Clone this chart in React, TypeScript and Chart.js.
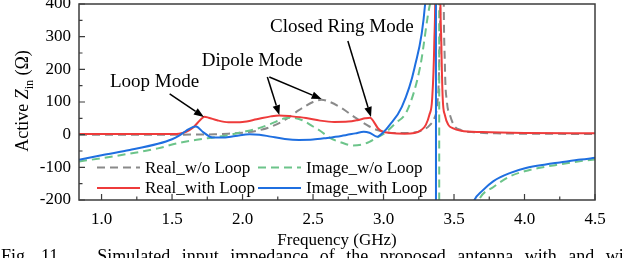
import { useEffect, useRef } from "react";
import { Chart, registerables } from "chart.js";

Chart.register(...registerables);

const FONT = "'Liberation Serif', 'Times New Roman', serif";

// ---------- data ----------
const realWoFreq = [0.84, 1.2, 1.5, 1.7, 1.8, 1.9, 2.0, 2.1, 2.2, 2.3, 2.4, 2.5, 2.56, 2.62, 2.7, 2.8, 2.9, 2.95, 3.0, 3.1, 3.2, 3.28, 3.33, 3.36, 3.38, 3.395, 3.405, 3.415, 3.425, 3.435, 3.45, 3.47, 3.5, 3.55, 3.65, 3.8, 4.0, 4.5];
const realWoVals = [0, 0, 0, 0.5, 1, 3, 6, 12, 24, 45, 75, 100, 107, 100, 82, 52, 25, 15, 9, 5, 6, 14, 30, 50, 90, 220, 600, 2500, 600, 220, 100, 62, 28, 14, 7, 4, 3, 2];

const imageWoFreq = [0.84, 1.0, 1.2, 1.4, 1.55, 1.7, 1.8, 1.9, 2.0, 2.1, 2.2, 2.3, 2.35, 2.42, 2.5, 2.55, 2.62, 2.7, 2.78, 2.85, 2.9, 2.95, 3.0, 3.08, 3.17, 3.26, 3.33, 3.37, 3.393, 3.397, 3.42, 3.5, 3.6, 3.676, 3.78, 3.9, 4.0, 4.1, 4.25, 4.4, 4.5];
const imageWoVals = [-82, -72, -58, -42, -25, -14, -8, -1, 8, 18, 33, 50, 52, 45, 25, 12, -10, -24, -33, -30, -22, -10, 2, 33, 76, 208, 400, 900, 8000, -8000, -2000, -600, -300, -200, -160, -127, -112, -102, -91, -81, -76];

const realWithFreq = [0.84, 1.2, 1.5, 1.55, 1.6, 1.65, 1.7, 1.73, 1.76, 1.82, 1.9, 2.0, 2.1, 2.2, 2.26, 2.35, 2.45, 2.55, 2.65, 2.75, 2.82, 2.87, 2.905, 2.93, 2.96, 2.99, 3.05, 3.15, 3.22, 3.27, 3.3, 3.325, 3.345, 3.36, 3.37, 3.385, 3.4, 3.41, 3.42, 3.435, 3.46, 3.49, 3.55, 3.7, 4.0, 4.5];
const realWithVals = [2, 2, 2, 3, 9, 22, 45, 55, 52, 44, 38, 39, 47, 56, 59, 56, 51, 43, 39, 40, 45, 50, 52, 40, 20, 10, 5, 3, 5, 15, 30, 60, 110, 280, 600, 3000, 600, 280, 110, 60, 30, 20, 12, 8, 5, 4];

const imageWithFreq = [0.84, 1.0, 1.2, 1.4, 1.5, 1.55, 1.6, 1.65, 1.67, 1.72, 1.79, 1.85, 1.95, 2.05, 2.12, 2.2, 2.3, 2.4, 2.5, 2.6, 2.7, 2.8, 2.86, 2.9, 2.955, 3.0, 3.04, 3.13, 3.22, 3.295, 3.34, 3.36, 3.37, 3.374, 3.4, 3.5, 3.6, 3.645, 3.7, 3.78, 3.9, 4.01, 4.15, 4.25, 4.4, 4.5];
const imageWithVals = [-77, -63, -47, -28, -14, -3, 12, 24, 25, 8, -9, -9, -4, 1, 0, -6, -13, -16, -15, -10, -4, 4, 9, 6, -6, 8, 28, 85, 205, 400, 800, 1800, 8000, -8000, -2000, -500, -260, -200, -172, -142, -117, -102, -91, -85, -76, -71];

const seriesLabels = ["Real_w/o Loop", "Image_w/o Loop", "Real_with Loop", "Image_with Loop"];

const xTickValues = [1.0, 1.5, 2.0, 2.5, 3.0, 3.5, 4.0, 4.5];
const xMinorValues = [1.25, 1.75, 2.25, 2.75, 3.25, 3.75, 4.25];
const yTickValues = [-200, -100, 0, 100, 200, 300, 400];
const yMinorValues = [-150, -50, 50, 150, 250, 350];

const xTitle = "Frequency (GHz)";
const captionText = "Fig. 11.   Simulated input impedance of the proposed antenna with and without loop.";

const annotationTexts = ["Loop Mode", "Dipole Mode", "Closed Ring Mode"];
const annotationX = [1.376, 2.069, 2.704];
const annotationY = [161, 225, 330];

const arrowFromX = [1.483, 2.176, 2.19, 2.747];
const arrowFromY = [124.5, 176.5, 176.5, 287];
const arrowToX = [1.726, 2.261, 2.561, 2.911];
const arrowToY = [54, 60, 109, 54];

const COLORS = ["#8a8a8a", "#6cc48a", "#ee3b3b", "#1f6fe0"];
const DASHES: number[][] = [[8, 5], [8, 5], [], []];
const ORDERS = [3, 2, 1, 0];

const toPoints = (xs: number[], ys: number[]) => xs.map((x, i) => ({ x, y: ys[i] }));

const overlay = {
  id: "overlay",
  afterDatasetsDraw(chart: any) {
    const { ctx, chartArea: a, scales } = chart;
    const xs = scales.x;
    const ys = scales.y;
    ctx.save();
    // frame
    ctx.strokeStyle = "#3c3c3c";
    ctx.lineWidth = 1.5;
    ctx.setLineDash([]);
    ctx.strokeRect(a.left, a.top, a.right - a.left, a.bottom - a.top);
    // inward ticks
    ctx.lineWidth = 1.2;
    ctx.beginPath();
    xTickValues.forEach((v) => {
      const p = xs.getPixelForValue(v);
      ctx.moveTo(p, a.bottom);
      ctx.lineTo(p, a.bottom - 6);
    });
    xMinorValues.forEach((v) => {
      const p = xs.getPixelForValue(v);
      ctx.moveTo(p, a.bottom);
      ctx.lineTo(p, a.bottom - 3.5);
    });
    yTickValues.forEach((v) => {
      const p = ys.getPixelForValue(v);
      ctx.moveTo(a.left, p);
      ctx.lineTo(a.left + 6, p);
    });
    yMinorValues.forEach((v) => {
      const p = ys.getPixelForValue(v);
      ctx.moveTo(a.left, p);
      ctx.lineTo(a.left + 3.5, p);
    });
    ctx.stroke();

    // legend (2 columns)
    const colX = [97, 258];
    const rowY = [167.5, 188];
    ctx.font = `17px ${FONT}`;
    ctx.textBaseline = "middle";
    ctx.textAlign = "left";
    chart.data.datasets.forEach((ds: any, i: number) => {
      const cx = colX[i % 2];
      const cy = rowY[Math.floor(i / 2)];
      ctx.strokeStyle = ds.borderColor;
      ctx.lineWidth = 2;
      ctx.setLineDash(ds.borderDash || []);
      ctx.beginPath();
      ctx.moveTo(cx, cy);
      ctx.lineTo(cx + 43, cy);
      ctx.stroke();
      ctx.setLineDash([]);
      ctx.fillStyle = "#000";
      ctx.fillText(ds.label, cx + 48, cy + 1);
    });

    // annotations
    ctx.font = `19px ${FONT}`;
    ctx.textAlign = "center";
    ctx.textBaseline = "middle";
    ctx.fillStyle = "#000";
    annotationTexts.forEach((t, i) => {
      ctx.fillText(t, xs.getPixelForValue(annotationX[i]), ys.getPixelForValue(annotationY[i]));
    });
    ctx.strokeStyle = "#000";
    ctx.lineWidth = 1.5;
    arrowFromX.forEach((fx, i) => {
      const x1 = xs.getPixelForValue(fx);
      const y1 = ys.getPixelForValue(arrowFromY[i]);
      const x2 = xs.getPixelForValue(arrowToX[i]);
      const y2 = ys.getPixelForValue(arrowToY[i]);
      const ang = Math.atan2(y2 - y1, x2 - x1);
      const hl = 10;
      const hw = 3.8;
      const bx = x2 - hl * Math.cos(ang);
      const by = y2 - hl * Math.sin(ang);
      ctx.beginPath();
      ctx.moveTo(x1, y1);
      ctx.lineTo(bx, by);
      ctx.stroke();
      ctx.beginPath();
      ctx.moveTo(x2, y2);
      ctx.lineTo(bx + hw * Math.sin(ang), by - hw * Math.cos(ang));
      ctx.lineTo(bx - hw * Math.sin(ang), by + hw * Math.cos(ang));
      ctx.closePath();
      ctx.fill();
    });

    // x title
    ctx.font = `17px ${FONT}`;
    ctx.textAlign = "center";
    ctx.textBaseline = "alphabetic";
    ctx.fillText(xTitle, (a.left + a.right) / 2, 245);

    // y title (rotated) : Active Z_in (Ω)
    ctx.save();
    ctx.translate(0, 101);
    ctx.rotate(-Math.PI / 2);
    ctx.textAlign = "left";
    const fN = `18px ${FONT}`;
    const fI = `italic 18px ${FONT}`;
    const fS = `12px ${FONT}`;
    ctx.font = fN;
    const w1 = ctx.measureText("Active ").width;
    const w4 = ctx.measureText(" (Ω)").width;
    ctx.font = fI;
    const w2 = ctx.measureText("Z").width;
    ctx.font = fS;
    const w3 = ctx.measureText("in").width;
    let px = -(w1 + w2 + w3 + w4) / 2;
    const base = 27.5;
    ctx.font = fN;
    ctx.fillText("Active ", px, base);
    px += w1;
    ctx.font = fI;
    ctx.fillText("Z", px, base);
    px += w2;
    ctx.font = fS;
    ctx.fillText("in", px, base + 5);
    px += w3;
    ctx.font = fN;
    ctx.fillText(" (Ω)", px, base);
    ctx.restore();

    // caption (cut by the bottom edge)
    ctx.font = `18px ${FONT}`;
    ctx.textAlign = "left";
    ctx.textBaseline = "alphabetic";
    (ctx as any).wordSpacing = "7px";
    ctx.fillText(captionText, 1, 262);
    (ctx as any).wordSpacing = "0px";

    ctx.restore();
  },
};

export default function App() {
  const ref = useRef<HTMLCanvasElement>(null);
  useEffect(() => {
    document.body.style.margin = "0";
    const seriesX = [realWoFreq, imageWoFreq, realWithFreq, imageWithFreq];
    const seriesY = [realWoVals, imageWoVals, realWithVals, imageWithVals];
    const datasets = seriesLabels.map((label, i) => ({
      label,
      data: toPoints(seriesX[i], seriesY[i]),
      borderColor: COLORS[i],
      backgroundColor: COLORS[i],
      borderDash: DASHES[i],
      borderWidth: 2,
      pointRadius: 0,
      cubicInterpolationMode: "monotone" as const,
      fill: false,
      order: ORDERS[i],
    }));
    const chart = new Chart(ref.current!, {
      type: "line",
      data: { datasets },
      options: {
        animation: false,
        responsive: false,
        devicePixelRatio: 1,
        layout: { padding: { left: 0, right: 29, top: 4, bottom: 0 } },
        plugins: { legend: { display: false }, tooltip: { enabled: false } },
        scales: {
          x: {
            type: "linear",
            min: 0.84,
            max: 4.5,
            grid: { display: false, drawTicks: false },
            border: { display: false },
            ticks: {
              font: { family: FONT, size: 17 },
              color: "#000",
              padding: 9,
              maxRotation: 0,
              autoSkip: false,
              callback: (v: any) => Number(v).toFixed(1),
            },
            afterBuildTicks: (s: any) => {
              s.ticks = xTickValues.map((v) => ({ value: v }));
            },
            afterFit: (s: any) => {
              s.height = 58;
              s.paddingLeft = 0;
              s.paddingRight = 0;
            },
          },
          y: {
            type: "linear",
            min: -200,
            max: 400,
            grid: { display: false, drawTicks: false },
            border: { display: false },
            ticks: {
              font: { family: FONT, size: 17 },
              color: "#000",
              padding: 8,
              autoSkip: false,
              callback: (v: any) => String(v),
            },
            afterBuildTicks: (s: any) => {
              s.ticks = yTickValues.map((v) => ({ value: v }));
            },
            afterFit: (s: any) => {
              s.width = 79;
              s.paddingTop = 0;
              s.paddingBottom = 0;
            },
          },
        },
      },
      plugins: [overlay],
    });
    return () => chart.destroy();
  }, []);
  return (
    <div style={{ width: 624, height: 258, position: "relative", overflow: "hidden" }}>
      <canvas ref={ref} width={624} height={258} style={{ display: "block" }} />
    </div>
  );
}
